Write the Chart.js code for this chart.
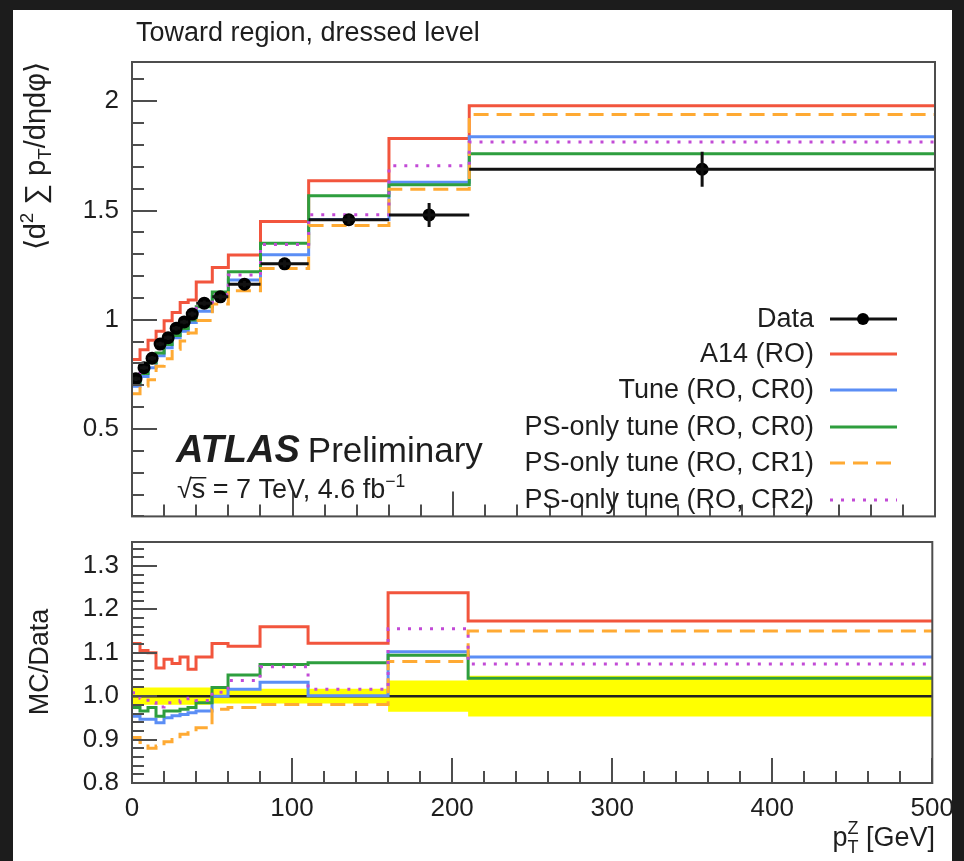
<!DOCTYPE html>
<html>
<head>
<meta charset="utf-8">
<script src="https://cdn.jsdelivr.net/npm/chart.js@4.4.1/dist/chart.umd.min.js"></script>
<style>
  body { margin: 0; background: #1c1c1c; }
  #page { position: relative; width: 964px; height: 861px; overflow: hidden; }
  #sheet { position: absolute; left: 13px; top: 10px; width: 939px; height: 851px; background: #fff; }
  canvas { position: absolute; left: 0; top: 0; }
</style>
</head>
<body>
<div id="page">
  <div id="sheet"></div>
  <canvas id="chartMain" width="964" height="545"></canvas>
  <canvas id="chartRatio" width="964" height="861"></canvas>
</div>
<script>
// pT^Z bins [GeV]
const binEdges = [0, 5, 10, 15, 20, 25, 30, 35, 40, 50, 60, 80, 110, 160, 210, 500];

// upper panel: <d2 sum pT / deta dphi>
const dataVals = [0.730, 0.781, 0.824, 0.889, 0.918, 0.961, 0.990, 1.026, 1.076, 1.105, 1.163, 1.256, 1.458, 1.480, 1.689];
const dataErr  = [0.010, 0.010, 0.010, 0.010, 0.010, 0.010, 0.010, 0.012, 0.012, 0.012, 0.014, 0.016, 0.020, 0.055, 0.080];
const a14Vals  = [0.818, 0.863, 0.906, 0.947, 0.996, 1.033, 1.079, 1.090, 1.173, 1.239, 1.297, 1.450, 1.636, 1.830, 1.980];
const tuneVals = [0.696, 0.740, 0.780, 0.835, 0.872, 0.918, 0.948, 0.987, 1.039, 1.105, 1.182, 1.298, 1.459, 1.630, 1.838];
const cr0Vals  = [0.711, 0.754, 0.803, 0.848, 0.887, 0.928, 0.960, 0.999, 1.060, 1.127, 1.220, 1.350, 1.568, 1.618, 1.760];
const cr1Vals  = [0.661, 0.697, 0.725, 0.787, 0.822, 0.865, 0.903, 0.940, 0.997, 1.072, 1.133, 1.235, 1.432, 1.598, 1.940];
const cr2Vals  = [0.736, 0.777, 0.812, 0.867, 0.904, 0.947, 0.980, 1.021, 1.065, 1.115, 1.205, 1.345, 1.481, 1.705, 1.814];

// lower panel: MC / Data
const a14Ratio  = [1.121, 1.105, 1.100, 1.065, 1.085, 1.075, 1.090, 1.062, 1.090, 1.121, 1.115, 1.160, 1.122, 1.238, 1.173];
const tuneRatio = [0.954, 0.947, 0.947, 0.939, 0.950, 0.955, 0.958, 0.962, 0.966, 1.000, 1.016, 1.032, 1.001, 1.102, 1.090];
const cr0Ratio  = [0.974, 0.966, 0.974, 0.954, 0.966, 0.966, 0.970, 0.974, 0.985, 1.020, 1.049, 1.073, 1.077, 1.094, 1.041];
const cr1Ratio  = [0.905, 0.893, 0.880, 0.885, 0.895, 0.900, 0.912, 0.916, 0.927, 0.970, 0.974, 0.981, 0.981, 1.080, 1.150];
const cr2Ratio  = [1.008, 0.995, 0.985, 0.975, 0.985, 0.985, 0.990, 0.995, 0.990, 1.009, 1.036, 1.068, 1.016, 1.155, 1.074];
const bandUp    = [1.020, 1.020, 1.020, 1.020, 1.020, 1.020, 1.020, 1.020, 1.020, 1.017, 1.017, 1.017, 1.017, 1.036, 1.047];
const bandDown  = [0.980, 0.980, 0.980, 0.980, 0.980, 0.980, 0.980, 0.980, 0.980, 0.983, 0.983, 0.983, 0.983, 0.964, 0.953];

// axes
const xTicks = [0, 100, 200, 300, 400, 500];
const xTickLabels = ['0', '100', '200', '300', '400', '500'];
const mainTicks = [0.5, 1, 1.5, 2];
const mainTickLabels = ['0.5', '1', '1.5', '2'];
const ratioTicks = [0.8, 0.9, 1.0, 1.1, 1.2, 1.3];
const ratioTickLabels = ['0.8', '0.9', '1.0', '1.1', '1.2', '1.3'];

const seriesNames = ['Data', 'A14 (RO)', 'Tune (RO, CR0)', 'PS-only tune (RO, CR0)', 'PS-only tune (RO, CR1)', 'PS-only tune (RO, CR2)'];

const FONT = '"Liberation Sans", Arial, Helvetica, sans-serif';
const INK = '#1e1e1e';
const RED = '#f2553d', BLUE = '#5b8ef5', GREEN = '#2e9e3e', ORANGE = '#ffaa33', PURPLE = '#c24ad6';
const DASH = [15, 8], DOTS = [3, 8];

function histPoints(vals) {
  const pts = vals.map((v, i) => ({ x: binEdges[i], y: v }));
  pts.push({ x: binEdges[binEdges.length - 1], y: vals[vals.length - 1] });
  return pts;
}

function stepLine(label, vals, color, dash, order) {
  return {
    label, data: histPoints(vals), borderColor: color, borderWidth: 3,
    borderDash: dash, stepped: 'before', pointRadius: 0, fill: false, order
  };
}

function tickLabel(values, labels) {
  return v => {
    const i = values.findIndex(t => Math.abs(t - v) < 1e-6);
    return i < 0 ? '' : labels[i];
  };
}

// text with super/subscripts; parts = [[text, kind]], kind 1 = sup, -1 = sub
function richText(ctx, parts, x, y, size, align) {
  const widthOf = ([t, k]) => { ctx.font = (k ? size * 0.65 : size) + 'px ' + FONT; return ctx.measureText(t).width; };
  const total = parts.reduce((s, p) => s + widthOf(p), 0);
  let cx = align === 'right' ? x - total : x;
  parts.forEach(p => {
    const w = widthOf(p);
    const dy = p[1] === 1 ? -size * 0.42 : p[1] === -1 ? size * 0.22 : 0;
    ctx.fillText(p[0], cx, y + dy);
    cx += w;
  });
}

// ROOT style frame with inward ticks
function frameTicks(yMinorStep, yMajorStep, yMin, yMax) {
  return {
    id: 'frameTicks',
    afterDraw(chart) {
      const { ctx, chartArea: a, scales: { x, y } } = chart;
      ctx.save();
      ctx.strokeStyle = '#4d4d4d';
      ctx.lineWidth = 2;
      ctx.strokeRect(a.left, a.top, a.right - a.left, a.bottom - a.top);
      ctx.beginPath();
      for (let v = 0; v <= 500; v += 20) {
        const px = Math.round(x.getPixelForValue(v));
        ctx.moveTo(px, a.bottom);
        ctx.lineTo(px, a.bottom - (v % 100 === 0 ? 25 : 12));
      }
      const n0 = Math.ceil(yMin / yMinorStep - 1e-6), n1 = Math.floor(yMax / yMinorStep + 1e-6);
      for (let n = n0; n <= n1; n++) {
        const v = n * yMinorStep;
        const major = Math.abs(v / yMajorStep - Math.round(v / yMajorStep)) < 1e-6;
        const py = Math.round(y.getPixelForValue(v));
        ctx.moveTo(a.left, py);
        ctx.lineTo(a.left + (major ? 25 : 12), py);
      }
      ctx.stroke();
      ctx.restore();
    }
  };
}

const dataBars = {
  id: 'dataBars',
  afterDatasetsDraw(chart) {
    const { ctx, scales: { x, y } } = chart;
    ctx.save();
    ctx.strokeStyle = '#111';
    ctx.lineWidth = 3;
    ctx.beginPath();
    dataVals.forEach((v, i) => {
      const x0 = x.getPixelForValue(binEdges[i]), x1 = x.getPixelForValue(binEdges[i + 1]);
      const xc = (x0 + x1) / 2, py = y.getPixelForValue(v);
      ctx.moveTo(x0, py); ctx.lineTo(x1, py);
      ctx.moveTo(xc, y.getPixelForValue(v + dataErr[i]));
      ctx.lineTo(xc, y.getPixelForValue(v - dataErr[i]));
    });
    ctx.stroke();
    ctx.restore();
  }
};

const mainTexts = {
  id: 'mainTexts',
  afterDraw(chart) {
    const { ctx } = chart;
    ctx.save();
    ctx.fillStyle = INK;
    ctx.textBaseline = 'alphabetic';

    ctx.font = '27px ' + FONT;
    ctx.fillText('Toward region, dressed level', 136, 41);

    // y title, rotated, aligned to the top of the frame
    ctx.save();
    ctx.translate(45, 62);
    ctx.rotate(-Math.PI / 2);
    richText(ctx, [['\u27E8d', 0], ['2', 1], [' \u2211 p', 0], ['T', -1], ['/d\u03B7d\u03C6\u27E9', 0]], 0, 0, 29, 'right');
    ctx.restore();

    // ATLAS label
    ctx.font = 'italic bold 38px ' + FONT;
    ctx.fillText('ATLAS', 176, 462);
    const wA = ctx.measureText('ATLAS').width;
    ctx.font = '35px ' + FONT;
    ctx.fillText('Preliminary', 176 + wA + 8, 462);
    ctx.font = '27px ' + FONT;
    ctx.fillText('\u221A', 177, 498);
    const wr = ctx.measureText('\u221A').width;
    const ws = ctx.measureText('s').width;
    ctx.fillRect(177 + wr - 1, 477, ws + 2, 1.5);
    richText(ctx, [['s = 7 TeV, 4.6 fb', 0], ['\u22121', 1]], 177 + wr, 498, 27);

    // legend
    const rowY = [319, 354, 390, 427, 463, 500];
    const styles = [
      { c: '#111', d: [] }, { c: RED, d: [] }, { c: BLUE, d: [] },
      { c: GREEN, d: [] }, { c: ORANGE, d: DASH }, { c: PURPLE, d: DOTS }
    ];
    ctx.font = '27px ' + FONT;
    ctx.textAlign = 'right';
    ctx.textBaseline = 'middle';
    seriesNames.forEach((name, i) => {
      ctx.fillStyle = INK;
      ctx.fillText(name, 814, rowY[i] + 1);
      ctx.strokeStyle = styles[i].c;
      ctx.lineWidth = 3;
      ctx.setLineDash(styles[i].d);
      ctx.beginPath();
      ctx.moveTo(830, rowY[i]);
      ctx.lineTo(897, rowY[i]);
      ctx.stroke();
      ctx.setLineDash([]);
      if (i === 0) {
        ctx.fillStyle = '#000';
        ctx.beginPath();
        ctx.arc(863, rowY[i], 6, 0, Math.PI * 2);
        ctx.fill();
      }
    });
    ctx.restore();
  }
};

const ratioTexts = {
  id: 'ratioTexts',
  afterDatasetDraw(chart, args) {
    if (args.meta.label !== 'bandUp') return;
    const { ctx, chartArea: a, scales: { y } } = chart;
    ctx.save();
    ctx.strokeStyle = '#222';
    ctx.lineWidth = 2.5;
    ctx.beginPath();
    ctx.moveTo(a.left, y.getPixelForValue(1));
    ctx.lineTo(a.right, y.getPixelForValue(1));
    ctx.stroke();
    ctx.restore();
  },
  afterDraw(chart) {
    const { ctx } = chart;
    ctx.save();
    ctx.fillStyle = INK;
    ctx.save();
    ctx.translate(48, 662);
    ctx.rotate(-Math.PI / 2);
    ctx.font = '27px ' + FONT;
    ctx.textAlign = 'center';
    ctx.fillText('MC/Data', 0, 0);
    ctx.restore();

    // x title: p_T^Z [GeV]
    ctx.font = '27px ' + FONT;
    const rest = ' [GeV]';
    const wRest = ctx.measureText(rest).width;
    const wp = ctx.measureText('p').width;
    ctx.font = '18px ' + FONT;
    const wZ = Math.max(ctx.measureText('Z').width, ctx.measureText('T').width);
    const x0 = 935 - wRest - wZ - wp;
    ctx.font = '27px ' + FONT;
    ctx.fillText('p', x0, 846);
    ctx.fillText(rest, x0 + wp + wZ, 846);
    ctx.font = '18px ' + FONT;
    ctx.fillText('Z', x0 + wp, 834);
    ctx.fillText('T', x0 + wp, 853);
    ctx.restore();
  }
};

const tickFont = { size: 26, family: FONT };

new Chart(document.getElementById('chartMain'), {
  type: 'line',
  data: {
    datasets: [
      {
        label: 'Data', data: dataVals.map((v, i) => ({ x: (binEdges[i] + binEdges[i + 1]) / 2, y: v })),
        showLine: false, pointRadius: 6.5, pointBackgroundColor: '#000', pointBorderWidth: 0, order: 0
      },
      stepLine('PS-only tune (RO, CR2)', cr2Vals, PURPLE, DOTS, 1),
      stepLine('PS-only tune (RO, CR1)', cr1Vals, ORANGE, DASH, 2),
      stepLine('PS-only tune (RO, CR0)', cr0Vals, GREEN, [], 3),
      stepLine('Tune (RO, CR0)', tuneVals, BLUE, [], 4),
      stepLine('A14 (RO)', a14Vals, RED, [], 5)
    ]
  },
  options: {
    responsive: false,
    animation: false,
    events: [],
    layout: { padding: { left: 72, right: 29, top: 62, bottom: 3 } },
    scales: {
      x: { type: 'linear', min: 0, max: 500, display: false },
      y: {
        min: 0.1, max: 2.18,
        afterFit: s => { s.width = 60; },
        afterBuildTicks: s => { s.ticks = mainTicks.map(v => ({ value: v })); },
        grid: { display: false, drawTicks: false },
        border: { display: false },
        ticks: { font: tickFont, color: INK, padding: 13, callback: tickLabel(mainTicks, mainTickLabels) }
      }
    },
    plugins: { legend: { display: false }, tooltip: { enabled: false } }
  },
  plugins: [frameTicks(0.1, 0.5, 0.1, 2.18), dataBars, mainTexts]
});

new Chart(document.getElementById('chartRatio'), {
  type: 'line',
  data: {
    datasets: [
      stepLine('PS-only tune (RO, CR2)', cr2Ratio, PURPLE, DOTS, 1),
      stepLine('PS-only tune (RO, CR1)', cr1Ratio, ORANGE, DASH, 2),
      stepLine('PS-only tune (RO, CR0)', cr0Ratio, GREEN, [], 3),
      stepLine('Tune (RO, CR0)', tuneRatio, BLUE, [], 4),
      stepLine('A14 (RO)', a14Ratio, RED, [], 5),
      {
        label: 'bandUp', data: histPoints(bandUp), stepped: 'before', borderWidth: 0,
        pointRadius: 0, backgroundColor: '#ffff00', fill: '+1', order: 10
      },
      {
        label: 'bandDown', data: histPoints(bandDown), stepped: 'before', borderWidth: 0,
        pointRadius: 0, fill: false, order: 11
      }
    ]
  },
  options: {
    responsive: false,
    animation: false,
    events: [],
    layout: { padding: { left: 72, right: 29, top: 542, bottom: 33 } },
    scales: {
      x: {
        type: 'linear', min: 0, max: 500,
        afterFit: s => { s.height = 45; },
        afterBuildTicks: s => { s.ticks = xTicks.map(v => ({ value: v })); },
        grid: { display: false, drawTicks: false },
        border: { display: false },
        ticks: { font: tickFont, color: INK, padding: 10, maxRotation: 0, callback: tickLabel(xTicks, xTickLabels) }
      },
      y: {
        min: 0.8, max: 1.355,
        afterFit: s => { s.width = 60; },
        afterBuildTicks: s => { s.ticks = ratioTicks.map(v => ({ value: v })); },
        grid: { display: false, drawTicks: false },
        border: { display: false },
        ticks: { font: tickFont, color: INK, padding: 13, callback: tickLabel(ratioTicks, ratioTickLabels) }
      }
    },
    plugins: { legend: { display: false }, tooltip: { enabled: false } }
  },
  plugins: [frameTicks(0.02, 0.1, 0.8, 1.355), ratioTexts]
});
</script>
</body>
</html>
